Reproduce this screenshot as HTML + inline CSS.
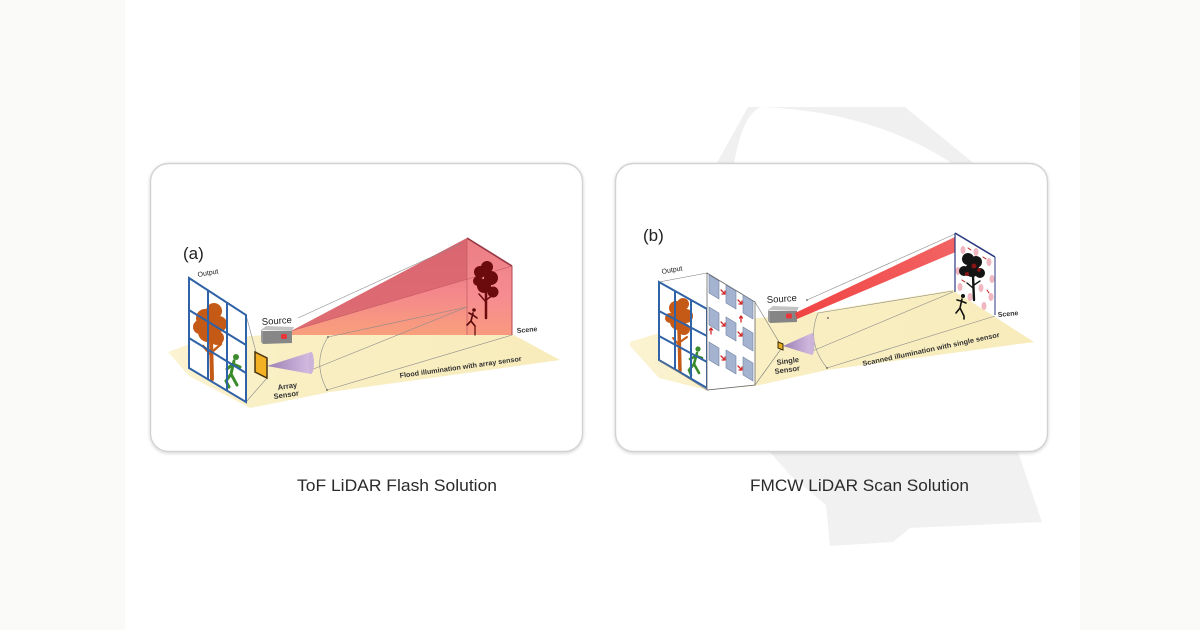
<!DOCTYPE html>
<html><head><meta charset="utf-8"><style>
html,body{margin:0;padding:0;background:#fff;}
svg{display:block;}
text{font-family:"Liberation Sans",Arial,sans-serif;}
</style></head><body>
<svg width="1200" height="630" viewBox="0 0 1200 630" xmlns="http://www.w3.org/2000/svg">
<defs>
<filter id="sh" x="-5%" y="-5%" width="110%" height="112%"><feDropShadow dx="0" dy="1" stdDeviation="1.6" flood-color="#000" flood-opacity="0.18"/></filter>
<linearGradient id="pyr" x1="0" y1="238" x2="0" y2="336" gradientUnits="userSpaceOnUse">
<stop offset="0" stop-color="#e07079"/><stop offset="0.55" stop-color="#f4878c"/><stop offset="1" stop-color="#f9a07c"/></linearGradient>
<linearGradient id="face" x1="0" y1="238" x2="0" y2="336" gradientUnits="userSpaceOnUse">
<stop offset="0" stop-color="#ee8088"/><stop offset="0.6" stop-color="#f68d92"/><stop offset="1" stop-color="#f8987e"/></linearGradient>
<linearGradient id="cone" x1="0" y1="0" x2="1" y2="0">
<stop offset="0" stop-color="#9c80b4"/><stop offset="1" stop-color="#d4bde2"/></linearGradient>
<linearGradient id="beam" x1="797" y1="316" x2="958" y2="243" gradientUnits="userSpaceOnUse">
<stop offset="0" stop-color="#f03a3a" stop-opacity="0.95"/><stop offset="1" stop-color="#f04848" stop-opacity="0.85"/></linearGradient>
<linearGradient id="floorA" x1="170" y1="0" x2="560" y2="0" gradientUnits="userSpaceOnUse">
<stop offset="0" stop-color="#fbf3d2"/><stop offset="0.3" stop-color="#f9efc3"/><stop offset="1" stop-color="#f8ecbb"/></linearGradient>
<linearGradient id="floorB" x1="630" y1="0" x2="1035" y2="0" gradientUnits="userSpaceOnUse">
<stop offset="0" stop-color="#fbf3d2"/><stop offset="0.3" stop-color="#f9efc3"/><stop offset="1" stop-color="#f8ecbb"/></linearGradient>
</defs>

<!-- background side strips -->
<rect x="0" y="0" width="125" height="630" fill="#fafaf8"/>
<rect x="1080" y="0" width="120" height="630" fill="#fafaf8"/>

<!-- watermark -->
<path d="M713,170 L748,107 L905,107 L982,170 Z" fill="#f0f0f0"/>
<path d="M733,170 Q742,112 762,107 Q880,112 962,170 Z" fill="#fff"/>
<path d="M770,452 L1018,452 L1042,522 L910,528 L893,542 L830,546 L826,505 L790,475 Z" fill="#f1f1f1"/>

<!-- panels -->
<rect x="150.5" y="163.5" width="432" height="288" rx="18" fill="#fff" stroke="#d2d2d2" stroke-width="1.4" filter="url(#sh)"/>
<rect x="615.5" y="163.5" width="432" height="288" rx="18" fill="#fff" stroke="#d2d2d2" stroke-width="1.4" filter="url(#sh)"/>

<!-- ================= LEFT (a) ================= -->
<polygon points="168,352 189,344 250,336 290,334 512,334 560,360 330,392 250,408 189,376" fill="url(#floorA)"/>

<!-- pyramid -->
<polygon points="291,331 467,238 512,266 512,335 290,335" fill="url(#pyr)"/>
<polygon points="291,331 467,238 512,266" fill="#d8646f" opacity="0.85"/>
<polygon points="467,238 512,266 512,335 467,335" fill="url(#face)" opacity="0.9"/>
<line x1="291" y1="331" x2="512" y2="266" stroke="#c65a65" stroke-width="0.6"/>
<line x1="467" y1="238" x2="512" y2="266" stroke="#963644" stroke-width="1.6"/>
<line x1="512" y1="266" x2="512" y2="335" stroke="#b04a56" stroke-width="1"/>
<line x1="467" y1="238" x2="467" y2="335" stroke="#c05a64" stroke-width="0.7"/>
<!-- scene tree a -->
<g fill="#6b0b0e">
<circle cx="480" cy="272" r="6"/><circle cx="487" cy="267" r="6"/><circle cx="491" cy="278" r="7"/>
<circle cx="484" cy="286" r="7"/><circle cx="493" cy="292" r="5.5"/><circle cx="478" cy="281" r="5"/>
</g>
<g stroke="#6b0b0e" stroke-linecap="round" fill="none">
<path d="M486,290 L486,318" stroke-width="2.5"/><path d="M486,302 L479,294" stroke-width="1.5"/><path d="M486,300 L493,295" stroke-width="1.5"/>
</g>
<g stroke="#5a0808" stroke-linecap="round" fill="none" stroke-width="1.6">
<circle cx="474" cy="310" r="1.8" fill="#5a0808" stroke="none"/>
<path d="M473,313 L471,321 L475,326 M471,321 L467,325 M473,315 L477,318 M473,315 L469,313"/>
<path d="M475,326 L475,335" stroke-width="1.2"/>
</g>

<!-- thin gray lines a -->
<g stroke="#8a8a8a" stroke-width="0.6" fill="none">
<line x1="298" y1="318" x2="462" y2="243"/>
<line x1="328" y1="337" x2="467" y2="307"/>
<line x1="306" y1="372" x2="467" y2="307"/>
<line x1="327" y1="390" x2="512" y2="335"/>
<path d="M328,337 Q312,362 327,390"/>
<line x1="246" y1="315" x2="256" y2="352"/>
<line x1="246" y1="402" x2="267" y2="378"/>
</g>
<circle cx="328" cy="337" r="0.9" fill="#555"/><circle cx="306" cy="372" r="0.9" fill="#555"/><circle cx="327" cy="390" r="0.9" fill="#555"/>

<!-- source box a -->
<polygon points="261,330 266,326 294,327 292,331" fill="#c3c3c3"/>
<polygon points="261,330 263,331 263,344 261,342" fill="#9a9a9a"/>
<polygon points="263,331 292,331 292,343 263,344" fill="#878787"/>
<rect x="281" y="334" width="6" height="5" rx="1.5" fill="#e8363a"/>
<text x="262" y="325" font-size="9.5" fill="#222" transform="rotate(-4 262 325)">Source</text>

<!-- output grid a -->
<polygon points="189,278 246,315 246,402 189,368" fill="#fff"/>
<g fill="#c55a17">
<circle cx="205" cy="318" r="9"/><circle cx="214" cy="311" r="8"/><circle cx="219" cy="324" r="8"/>
<circle cx="208" cy="332" r="10"/><circle cx="200" cy="327" r="7"/><circle cx="217" cy="338" r="7"/>
</g>
<g stroke="#c55a17" stroke-linecap="round" fill="none">
<path d="M211,338 L212,379" stroke-width="4"/><path d="M211,355 L203,346" stroke-width="2.5"/><path d="M212,352 L221,344" stroke-width="2.5"/>
</g>
<g stroke="#3b8b2c" stroke-linecap="round" fill="none" stroke-width="3">
<circle cx="236" cy="357" r="3" fill="#3b8b2c" stroke="none"/>
<path d="M234,361 L231,374 M233,364 L240,367 M233,364 L227,369 M231,374 L237,385 M231,374 L226,381 L229,387"/>
</g>
<g stroke="#2f62a6" stroke-width="2" fill="none">
<polygon points="189,278 246,315 246,402 189,368"/>
<line x1="208" y1="290" x2="208" y2="379"/>
<line x1="227" y1="303" x2="227" y2="391"/>
<line x1="189" y1="310" x2="246" y2="345"/>
<line x1="189" y1="338" x2="246" y2="373"/>
</g>
<text x="198" y="277" font-size="7" fill="#222" transform="rotate(-10 198 277)">Output</text>
<text x="183" y="259" font-size="17" fill="#222">(a)</text>

<!-- array sensor + cone -->
<polygon points="255,352 267,358 267,378 255,372" fill="#f3b225" stroke="#4a3510" stroke-width="1.5"/>
<polygon points="267,366 311,352 311,374" fill="url(#cone)"/>
<ellipse cx="311" cy="363" rx="3" ry="11" fill="#cbb3da"/>
<text x="278" y="390" font-size="7.5" font-weight="bold" fill="#333" transform="rotate(-8 278 390)">Array</text>
<text x="274" y="399" font-size="7.5" font-weight="bold" fill="#333" transform="rotate(-8 274 399)">Sensor</text>
<text x="517" y="333" font-size="7" font-weight="bold" fill="#333" transform="rotate(-5 517 333)">Scene</text>
<text x="400" y="378" font-size="7" font-weight="bold" fill="#333" textLength="123" lengthAdjust="spacingAndGlyphs" transform="rotate(-8 400 378)">Flood illumination with array sensor</text>

<!-- ================= RIGHT (b) ================= -->
<polygon points="630,342 659,333 707,320 760,318 817,312 953,290 1034,342 827,370 755,386 707,390 659,378 630,346" fill="url(#floorB)"/>

<!-- output grid b -->
<polygon points="659,282 707,309 707,388 659,360" fill="#fff"/>
<g fill="#c55a17">
<circle cx="676" cy="308" r="7"/><circle cx="683" cy="304" r="6"/><circle cx="686" cy="316" r="7"/>
<circle cx="678" cy="322" r="8"/><circle cx="670" cy="318" r="5"/><circle cx="684" cy="329" r="6"/>
</g>
<g stroke="#c55a17" stroke-linecap="round" fill="none">
<path d="M679,328 L680,371" stroke-width="3.5"/><path d="M679,345 L673,338" stroke-width="2"/><path d="M680,342 L687,337" stroke-width="2"/>
</g>
<g stroke="#3b8b2c" stroke-linecap="round" fill="none" stroke-width="2.6">
<circle cx="698" cy="349" r="2.6" fill="#3b8b2c" stroke="none"/>
<path d="M697,353 L694,364 M696,356 L702,358 M696,356 L690,359 M694,364 L699,373 M694,364 L689,370 L691,375"/>
</g>
<g stroke="#2f62a6" stroke-width="2" fill="none">
<polygon points="659,282 707,309 707,388 659,360"/>
<line x1="675" y1="291" x2="675" y2="369"/>
<line x1="691" y1="300" x2="691" y2="379"/>
<line x1="659" y1="311" x2="707" y2="336"/>
<line x1="659" y1="336" x2="707" y2="362"/>
</g>
<text x="662" y="274" font-size="7" fill="#222" transform="rotate(-10 662 274)">Output</text>
<text x="643" y="241" font-size="17" fill="#222">(b)</text>

<!-- scan panel -->
<g stroke="#777" stroke-width="0.6" fill="none">
<line x1="659" y1="282" x2="707" y2="273"/>
<line x1="659" y1="360" x2="707" y2="390"/>
<line x1="755" y1="302" x2="779" y2="342"/>
<line x1="755" y1="385" x2="781" y2="349"/>
</g>
<polygon points="707,273 755,302 755,385 707,390" fill="#fff" stroke="#666" stroke-width="0.8"/>
<g fill="#a4b4d0" stroke="#6e7f9e" stroke-width="0.6">
<polygon points="709,275 719,281 719,299 709,293"/>
<polygon points="709,307 719,313 719,331 709,325"/>
<polygon points="709,342 719,348 719,366 709,360"/>
<polygon points="726,285 736,291 736,309 726,303"/>
<polygon points="726,317 736,323 736,341 726,335"/>
<polygon points="726,350 736,356 736,374 726,368"/>
<polygon points="743,295 753,301 753,319 743,313"/>
<polygon points="743,327 753,333 753,351 743,345"/>
<polygon points="743,357 753,363 753,381 743,375"/>
</g>
<g stroke="#d02828" stroke-width="1.3" stroke-linecap="round" fill="none">
<path d="M721,290 L725,294 M725,294 L725,291 M725,294 L722,294"/>
<path d="M738,300 L742,304 M742,304 L742,301 M742,304 L739,304"/>
<path d="M721,322 L725,326 M725,326 L725,323 M725,326 L722,326"/>
<path d="M738,332 L742,336 M742,336 L742,333 M742,336 L739,336"/>
<path d="M721,356 L725,360 M725,360 L725,357 M725,360 L722,360"/>
<path d="M738,366 L742,370 M742,370 L742,367 M742,370 L739,370"/>
<path d="M711,334 L711,328 M711,328 L709.5,330 M711,328 L712.5,330"/>
<path d="M741,322 L741,316 M741,316 L739.5,318 M741,316 L742.5,318"/>
</g>

<!-- thin gray lines b -->
<g stroke="#8a8a8a" stroke-width="0.6" fill="none">
<line x1="807" y1="300" x2="955" y2="234"/>
<line x1="818" y1="313" x2="953" y2="291"/>
<line x1="810" y1="352" x2="953" y2="292"/>
<line x1="827" y1="368" x2="995" y2="316"/>
<path d="M818,313 Q806,342 827,368"/>
</g>
<circle cx="807" cy="300" r="0.9" fill="#555"/><circle cx="828" cy="318" r="0.9" fill="#555"/><circle cx="810" cy="352" r="0.9" fill="#555"/><circle cx="827" cy="368" r="0.9" fill="#555"/>

<!-- source b -->
<polygon points="768,310 773,306 799,307 797,311" fill="#c3c3c3"/>
<polygon points="768,310 770,311 770,323 768,321" fill="#9a9a9a"/>
<polygon points="770,311 797,311 797,322 770,323" fill="#858585"/>
<rect x="786" y="313.5" width="6" height="5" rx="1.5" fill="#e8363a"/>
<text x="767" y="303" font-size="9.5" fill="#222" transform="rotate(-4 767 303)">Source</text>

<!-- beam -->
<polygon points="795,313 797,319 958,251 957,236" fill="url(#beam)"/>
<ellipse cx="959" cy="243" rx="3.5" ry="7.5" fill="#e02424"/>

<!-- scene b -->
<polygon points="955,233 995,257 995,315 955,292" fill="#fff"/>
<g fill="#f0b0ba" opacity="0.9">
<ellipse cx="963" cy="250" rx="2.5" ry="4"/><ellipse cx="976" cy="252" rx="2.5" ry="4"/>
<ellipse cx="989" cy="262" rx="2.5" ry="4"/><ellipse cx="992" cy="279" rx="2.5" ry="4"/>
<ellipse cx="991" cy="297" rx="2.5" ry="4"/><ellipse cx="984" cy="306" rx="2.5" ry="4"/>
<ellipse cx="958" cy="271" rx="2.5" ry="4"/><ellipse cx="960" cy="287" rx="2.5" ry="4"/>
<ellipse cx="970" cy="297" rx="2.5" ry="4"/><ellipse cx="981" cy="288" rx="2.5" ry="4"/>
</g>
<g fill="#141414">
<circle cx="968" cy="259" r="6"/><circle cx="976" cy="262" r="6"/><circle cx="972" cy="270" r="7"/>
<circle cx="980" cy="273" r="5"/><circle cx="964" cy="271" r="5"/>
</g>
<g fill="#8a1515"><circle cx="974" cy="266" r="2.5"/><circle cx="967" cy="274" r="2"/><circle cx="979" cy="270" r="1.8"/></g>
<g stroke="#141414" stroke-linecap="round" fill="none">
<path d="M973,276 L974,300" stroke-width="2.4"/><path d="M973,288 L967,283" stroke-width="1.4"/><path d="M974,285 L980,281" stroke-width="1.4"/>
</g>
<g stroke="#c02020" stroke-width="1" fill="none" stroke-linecap="round">
<path d="M968,248 L971,250"/><path d="M983,257 L986,259"/><path d="M987,290 L989,293"/><path d="M962,280 L965,282"/>
</g>
<g stroke="#2a3a80" fill="none">
<line x1="955" y1="233" x2="995" y2="257" stroke-width="1.6"/>
<line x1="955" y1="233" x2="955" y2="292" stroke-width="1.2"/>
<line x1="995" y1="257" x2="995" y2="315" stroke-width="1"/>
</g>
<g stroke="#111" stroke-linecap="round" fill="none" stroke-width="1.6">
<circle cx="963" cy="296" r="2" fill="#111" stroke="none"/>
<path d="M962,299 L960,308 L964,316 M960,308 L956,313 M961,301 L966,303 M961,301 L957,300 M964,316 L964,319"/>
</g>

<!-- single sensor + cone -->
<polygon points="778,342 783,344 783,350 778,348" fill="#e8b020" stroke="#3a2a08" stroke-width="1"/>
<polygon points="783,346 812,333 812,355" fill="url(#cone)"/>
<ellipse cx="812" cy="344" rx="2.5" ry="11" fill="#cbb3da"/>
<text x="777" y="365" font-size="7.5" font-weight="bold" fill="#333" transform="rotate(-8 777 365)">Single</text>
<text x="775" y="374" font-size="7.5" font-weight="bold" fill="#333" transform="rotate(-8 775 374)">Sensor</text>
<text x="998" y="317" font-size="7" font-weight="bold" fill="#333" transform="rotate(-5 998 317)">Scene</text>
<text x="863" y="366" font-size="7" font-weight="bold" fill="#333" textLength="140" lengthAdjust="spacingAndGlyphs" transform="rotate(-12 863 366)">Scanned illumination with single sensor</text>

<!-- captions -->
<text x="297" y="491" font-size="17" fill="#2b2b2b" textLength="200" lengthAdjust="spacingAndGlyphs">ToF LiDAR Flash Solution</text>
<text x="750" y="491" font-size="17" fill="#2b2b2b" textLength="219" lengthAdjust="spacingAndGlyphs">FMCW LiDAR Scan Solution</text>
</svg>
</body></html>
